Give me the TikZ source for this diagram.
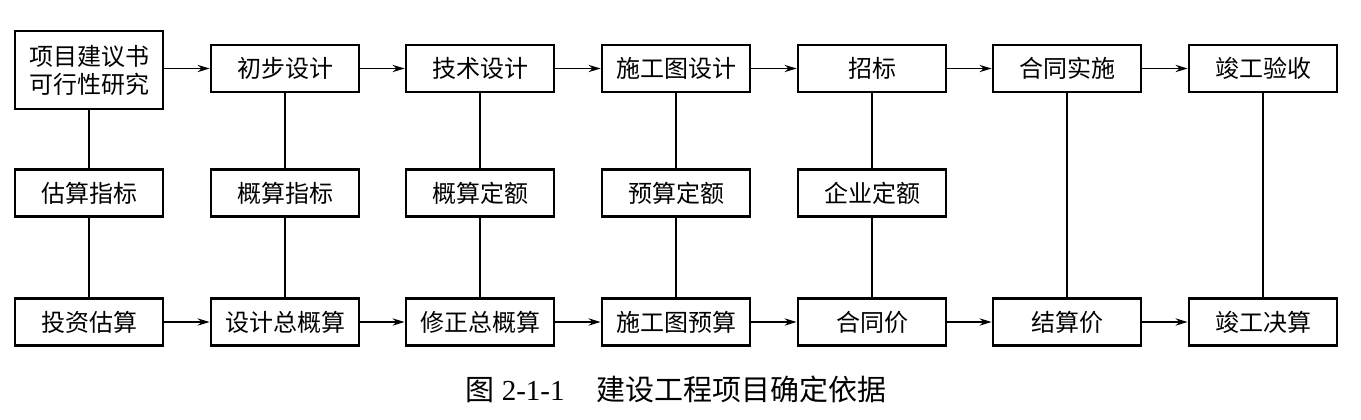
\documentclass[tikz,border=0pt]{standalone}
\usepackage{fontspec}
\setmainfont{Liberation Serif}
\newfontfamily\cjk{Noto Sans CJK SC}
\usetikzlibrary{arrows.meta}
\begin{document}
\begin{tikzpicture}[x=0.5pt,y=-0.5pt,
  bx/.style={draw,line width=1.4pt,minimum width=74pt,minimum height=23.5pt,inner sep=0pt,font=\cjk\fontsize{12}{14}\selectfont},
  ln/.style={line width=0.9pt},
  ar/.style={ln,-{Stealth[length=6pt,width=3.6pt]}}]
\useasboundingbox (0,0) rectangle (1361,419);
% top row
\node[bx,minimum height=39pt,align=center] (t1) at (89,70) {项目建议书\\可行性研究};
\node[bx] (t2) at (285,68.5) {初步设计};
\node[bx] (t3) at (480,68.5) {技术设计};
\node[bx] (t4) at (676,68.5) {施工图设计};
\node[bx] (t5) at (872,68.5) {招标};
\node[bx] (t6) at (1067,68.5) {合同实施};
\node[bx] (t7) at (1263,68.5) {竣工验收};
% middle row
\node[bx] (m1) at (89,193) {估算指标};
\node[bx] (m2) at (285,193) {概算指标};
\node[bx] (m3) at (480,193) {概算定额};
\node[bx] (m4) at (676,193) {预算定额};
\node[bx] (m5) at (872,193) {企业定额};
% bottom row
\node[bx] (b1) at (89,322) {投资估算};
\node[bx] (b2) at (285,322) {设计总概算};
\node[bx] (b3) at (480,322) {修正总概算};
\node[bx] (b4) at (676,322) {施工图预算};
\node[bx] (b5) at (872,322) {合同价};
\node[bx] (b6) at (1067,322) {结算价};
\node[bx] (b7) at (1263,322) {竣工决算};
\draw[ar] (t1.east|-t2) -- (t2); \draw[ar] (t2) -- (t3); \draw[ar] (t3) -- (t4);
\draw[ar] (t4) -- (t5); \draw[ar] (t5) -- (t6); \draw[ar] (t6) -- (t7);
\draw[ar] (b1) -- (b2); \draw[ar] (b2) -- (b3); \draw[ar] (b3) -- (b4);
\draw[ar] (b4) -- (b5); \draw[ar] (b5) -- (b6); \draw[ar] (b6) -- (b7);
\draw[ln] (t1) -- (m1) -- (b1); \draw[ln] (t2) -- (m2) -- (b2); \draw[ln] (t3) -- (m3) -- (b3);
\draw[ln] (t4) -- (m4) -- (b4); \draw[ln] (t5) -- (m5) -- (b5);
\draw[ln] (t6) -- (b6); \draw[ln] (t7) -- (b7);
\node[font=\fontsize{14.5}{16}\selectfont] (cap) at (676,389) {{\cjk 图} 2-1-1\hspace{1.1em}{\cjk 建设工程项目确定依据}};
\end{tikzpicture}
\end{document}
